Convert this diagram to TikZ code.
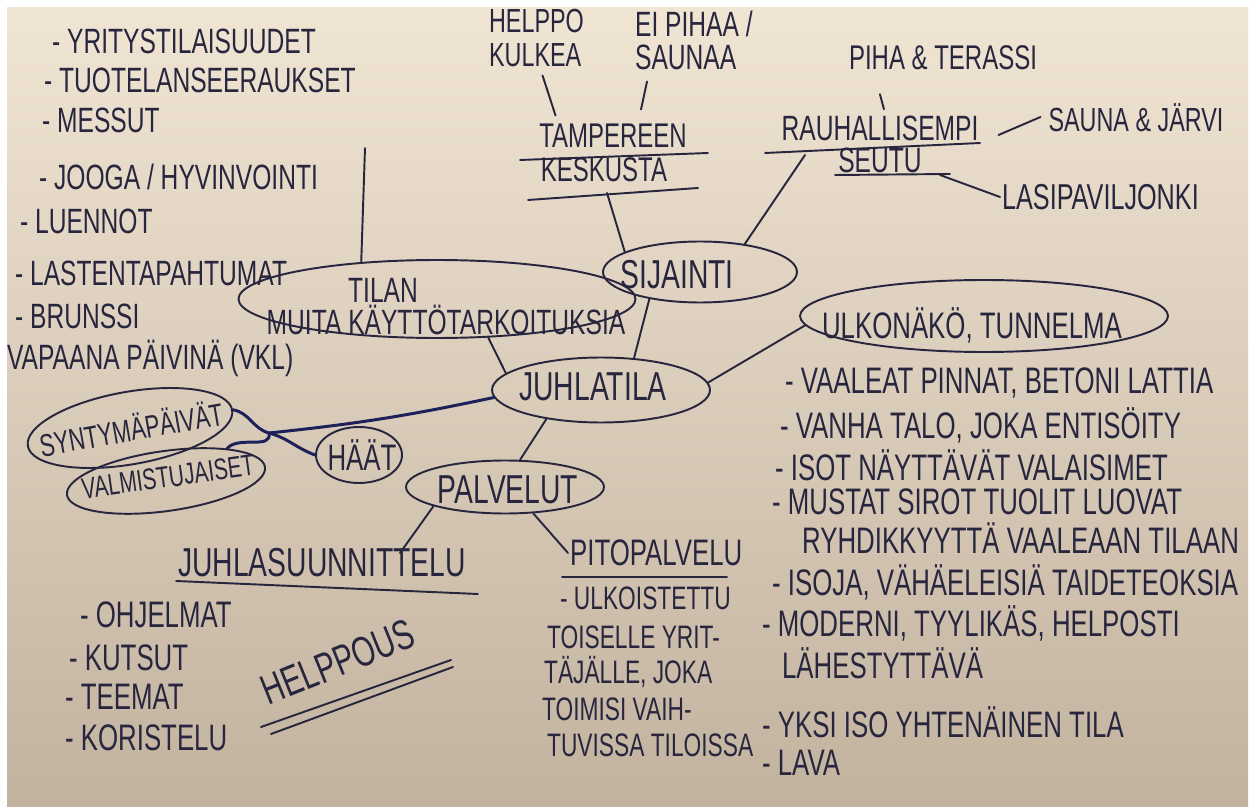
\documentclass[tikz,border=0pt]{standalone}
\usepackage{fontspec}
\setmainfont{Liberation Sans}[FakeStretch=0.7]
\usetikzlibrary{shapes.geometric}

\definecolor{ink}{RGB}{40,38,62}
\definecolor{inkblue}{RGB}{30,32,92}
\definecolor{papertop}{RGB}{240,228,211}
\definecolor{paperbot}{RGB}{194,179,159}

\tikzset{
  txt/.style={font=\fontsize{#1}{18.8}\selectfont, text=ink, inner sep=1pt},
  txt/.default=19,
  item/.style={txt=#1, anchor=west},
  item/.default=19,
  bubble/.style={draw=ink, ellipse, line width=1.1pt, inner sep=0pt},
  pen/.style={draw=ink, line width=1.1pt, line cap=round},
  bundle/.style={draw=inkblue, line width=1.7pt, line cap=round},
}

\begin{document}
\begin{tikzpicture}[x=0.02cm, y=-0.02cm]
\useasboundingbox (0,0) rectangle (1254,807);
\fill[white] (0,0) rectangle (1254,807);
\shade[top color=papertop, bottom color=paperbot] (7,8) rectangle (1248,807);

% kuplat
\node[bubble, minimum width=7.94cm, minimum height=1.56cm] (tilan) at (437,299) {};
\node[bubble, minimum width=3.88cm, minimum height=1.22cm] (sijainti) at (700,272) {};
\node[bubble, minimum width=7.36cm, minimum height=1.44cm] (ulko) at (984,316) {};
\node[bubble, minimum width=4.36cm, minimum height=1.3cm] (juhlatila) at (601,390) {};
\node[bubble, minimum width=4.15cm, minimum height=1.45cm, rotate=10] (syntyma) at (130,428) {};
\node[bubble, minimum width=4.0cm, minimum height=1.2cm, rotate=8] (valmis) at (166,481) {};
\node[bubble, minimum width=1.72cm, minimum height=1.12cm] (haat) at (359,455) {};
\node[bubble, minimum width=3.96cm, minimum height=1.06cm] (palvelut) at (505,487) {};

\node[txt=20] (tilan-a) at (383,290) {TILAN};
\node[txt=20] (tilan-b) at (446,320) {MUITA KÄYTTÖTARKOITUKSIA};
\node[txt=23] (sijainti-t) at (677,275) {SIJAINTI};
\node[txt=21] (ulko-t) at (972,325) {ULKONÄKÖ, TUNNELMA};
\node[txt=23] (juhlatila-t) at (593,387) {JUHLATILA};
\node[txt=18, rotate=10] (syntyma-t) at (131,428) {SYNTYMÄPÄIVÄT};
\node[txt=17, rotate=8] (valmis-t) at (168,477) {VALMISTUJAISET};
\node[txt=21] (haat-t) at (362,455) {HÄÄT};
\node[txt=23] (palvelut-t) at (508,490) {PALVELUT};

% muut kayttotarkoitukset
\foreach \x/\y/\t [count=\i] in {50/41/{- YRITYSTILAISUUDET}, 42/80/{- TUOTELANSEERAUKSET},
    40/120/{- MESSUT}, 37/177/{- JOOGA / HYVINVOINTI}, 18/221/{- LUENNOT},
    13/273/{- LASTENTAPAHTUMAT}, 13/316/{- BRUNSSI}, 5/358/{VAPAANA PÄIVINÄ (VKL)}}
  \node[item=20] (muu-\i) at (\x,\y) {\t};
\coordinate (muut) at (365,148);

% sijainti
\node[item, align=left] (helppo) at (487,38) {HELPPO\\KULKEA};
\node[item=20, align=left] (eipihaa) at (633,40) {EI PIHAA /\\SAUNAA};
\node[txt=19.5] (tre1) at (613,136) {TAMPEREEN};
\node[txt=19.5] (tre2) at (604,170) {KESKUSTA};
\node[txt=19.5] (piha) at (943,58) {PIHA \& TERASSI};
\node[txt=20] (rauh) at (880,128) {RAUHALLISEMPI};
\node[txt=20] (seutu) at (880,160) {SEUTU};
\node[txt] (sauna) at (1136,118) {SAUNA \& JÄRVI};
\node[item=20.5] (lasi) at (1000,197) {LASIPAVILJONKI};

\draw[pen] (520,160) -- (708,153);
\draw[pen] (528,200) -- (698,188);
\draw[pen] (765,153) -- (980,143);
\draw[pen] (835,175) -- (950,174);
\coordinate (tre-u) at (607,193);
\coordinate (rauh-u) at (805,155);
\coordinate (seutu-r) at (940,175);

% ulkonako
\foreach \x/\y/\t [count=\i] in {783/383/{- VAALEAT PINNAT, BETONI LATTIA},
    778/425/{- VANHA TALO, JOKA ENTISÖITY}, 773/465/{- ISOT NÄYTTÄVÄT VALAISIMET},
    770/502/{- MUSTAT SIROT TUOLIT LUOVAT}, 800/538/{RYHDIKKYYTTÄ VAALEAAN TILAAN},
    770/582/{- ISOJA, VÄHÄELEISIÄ TAIDETEOKSIA}, 760/623/{- MODERNI, TYYLIKÄS, HELPOSTI},
    780/663/{LÄHESTYTTÄVÄ}, 760/722/{- YKSI ISO YHTENÄINEN TILA}, 760/763/{- LAVA}}
  \node[item=21] (ulko-\i) at (\x,\y) {\t};

% palvelut
\node[txt=23] (suunn) at (322,563) {JUHLASUUNNITTELU};
\draw[pen] (176,581) -- (478,594);
\coordinate (suunn-u) at (400,553);
\foreach \x/\y/\t [count=\i] in {78/615/{- OHJELMAT}, 67/658/{- KUTSUT},
    63/697/{- TEEMAT}, 63/738/{- KORISTELU}}
  \node[item=21] (suunn-\i) at (\x,\y) {\t};

\node[txt=24, rotate=22] (helppous) at (338,662) {HELPPOUS};
\draw[pen] (261,727) -- (451,660);
\draw[pen] (271,734) -- (453,667);

\node[item=21] (pito) at (568,553) {PITOPALVELU};
\draw[pen] (562,577) -- (727,577);
\foreach \x/\y/\t [count=\i] in {558/598/{- ULKOISTETTU}, 545/637/{TOISELLE YRIT-},
    542/672/{TÄJÄLLE, JOKA}, 540/709/{TOIMISI VAIH-}, 545/745/{TUVISSA TILOISSA}}
  \node[item=18.5] (pito-\i) at (\x,\y) {\t};

% viivat
\draw[pen] (tilan.154) -- (muut);
\draw[pen] (tilan.-37) -- (juhlatila.170);
\draw[pen] (sijainti.-152) -- (juhlatila.44);
\draw[pen] (sijainti.165) -- (tre-u);
\draw[pen] (sijainti.32) -- (rauh-u);
\draw[pen] (juhlatila.4) -- (ulko.183);
\draw[pen] (juhlatila.-152) -- (palvelut.61);
\draw[pen] (palvelut.-165) -- (suunn-u);
\draw[pen] (palvelut.-43) -- (pito.west);
\draw[pen] (helppo.south) ++(6,7) -- ++(13,40);
\draw[pen] (eipihaa.south west) ++(14,10) -- ++(-6,28);
\draw[pen] (piha.south west) ++(33,22) -- ++(4,15);
\draw[pen] (rauh.east) ++(18,7) -- ++(42,-18);
\draw[pen] (seutu-r) -- (lasi.west);

\coordinate (haara) at (269,433);
\draw[bundle] (juhlatila.184) to[bend left=3] (haara);
\draw[bundle] (haara) to[out=165, in=-10] (syntyma.east);
\draw[bundle] (haara) to[out=-80, in=50] (valmis.20);
\draw[bundle] (haara) to[out=-15, in=160] (haat.west);
\end{tikzpicture}
\end{document}
